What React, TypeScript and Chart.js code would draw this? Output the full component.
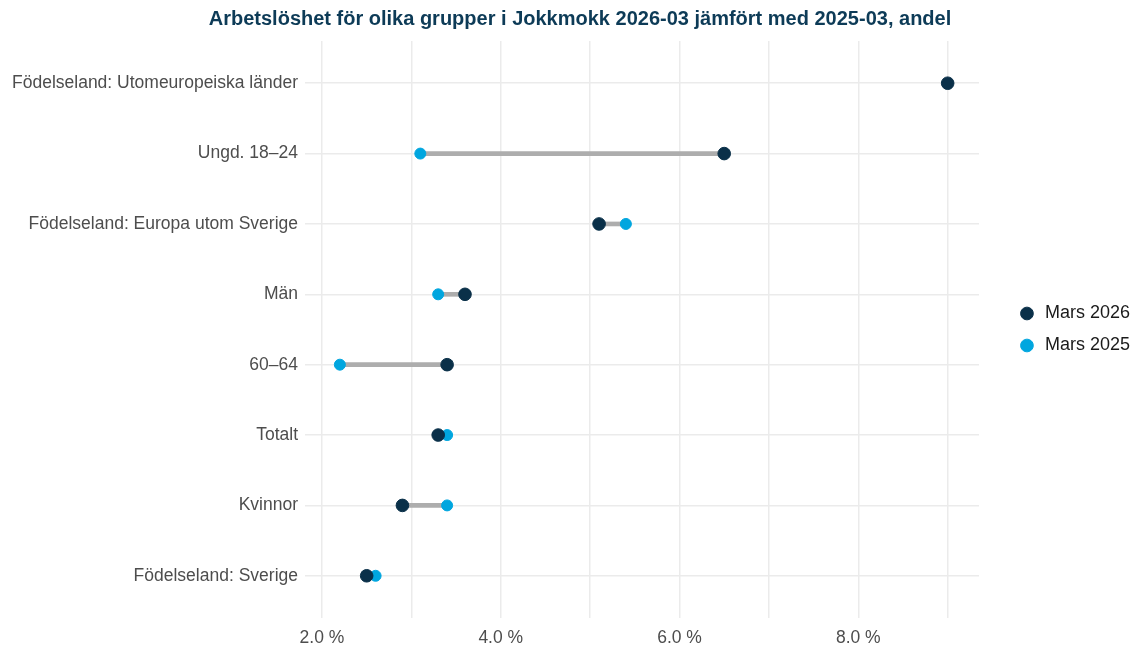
import React, { useEffect, useRef } from "react";
import { Chart, registerables, layouts } from "chart.js";

Chart.register(...registerables);

const categories = [
  "Födelseland: Utomeuropeiska länder",
  "Ungd. 18–24",
  "Födelseland: Europa utom Sverige",
  "Män",
  "60–64",
  "Totalt",
  "Kvinnor",
  "Födelseland: Sverige",
];
const mars2026 = [9.0, 6.5, 5.1, 3.6, 3.4, 3.3, 2.9, 2.5];
const mars2025: (number | null)[] = [null, 3.1, 5.4, 3.3, 2.2, 3.4, 3.4, 2.6];
const xTicks = [2, 3, 4, 5, 6, 7, 8, 9];
const seriesNames = ["Mars 2026", "Mars 2025"];
const title = "Arbetslöshet för olika grupper i Jokkmokk 2026-03 jämfört med 2025-03, andel";

const DARK = "#0a3049";
const LIGHT = "#00a6df";
const FONT = "'Liberation Sans', Arial, sans-serif";

// Empty layout box that keeps a gap between the plot and the legend,
// and a small shift of the title's centre to match the reference.
const legendGap = {
  id: "legendGap",
  beforeInit(chart: any) {
    const box: any = {
      position: "right",
      weight: 500,
      fullSize: false,
      options: {},
      width: 0,
      height: 0,
      left: 0,
      top: 0,
      right: 0,
      bottom: 0,
      isHorizontal: () => false,
      update(_w: number, h: number) {
        box.width = 25;
        box.height = h;
      },
      draw() {},
    };
    layouts.addBox(chart, box);
  },
  afterLayout(chart: any) {
    if (chart.titleBlock) chart.titleBlock.left += 20;
  },
};

export default function App() {
  const ref = useRef<HTMLCanvasElement>(null);
  useEffect(() => {
    document.body.style.margin = "0";
    const pts26 = mars2026.map((v, i) => ({ x: v, y: i }));
    const pts25 = mars2025
      .map((v, i) => (v == null ? null : { x: v, y: i }))
      .filter((p) => p !== null);
    const segs = categories
      .map((_, i) =>
        mars2025[i] == null ? null : { y: i, x: [Math.min(mars2026[i], mars2025[i] as number), Math.max(mars2026[i], mars2025[i] as number)] }
      )
      .filter((p) => p !== null);
    const chart = new Chart(ref.current!, {
      type: "bar",
      plugins: [legendGap],
      data: {
        datasets: [
          {
            type: "scatter",
            label: seriesNames[0],
            data: pts26,
            backgroundColor: DARK,
            borderColor: DARK,
            pointRadius: 6.3,
            pointHoverRadius: 6.3,
            pointStyle: "circle",
          } as any,
          {
            type: "scatter",
            label: seriesNames[1],
            data: pts25,
            backgroundColor: LIGHT,
            borderColor: LIGHT,
            pointRadius: 5.5,
            pointHoverRadius: 5.5,
            pointStyle: "circle",
          } as any,
          {
            type: "bar",
            label: "segment",
            data: segs as any,
            backgroundColor: "#adadad",
            borderWidth: 0,
            barThickness: 4,
            borderSkipped: false,
          } as any,
        ],
      },
      options: {
        animation: false,
        responsive: false,
        indexAxis: "y",
        layout: { padding: { left: 0, right: 0, top: 0, bottom: 0 } },
        plugins: {
          title: {
            display: true,
            text: title,
            color: "#0d3b57",
            font: { family: FONT, size: 20, weight: "bold", lineHeight: 1.2 },
            padding: { top: 7, bottom: 10 },
          },
          legend: {
            position: "right",
            fullSize: false,
            labels: {
              filter: (item) => item.datasetIndex !== 2,
              usePointStyle: true,
              boxWidth: 18,
              boxHeight: 9,
              padding: 14,
              color: "#1a1a1a",
              font: { family: FONT, size: 18 },
            },
          },
          tooltip: { enabled: false },
        },
        scales: {
          x: {
            type: "linear",
            min: 1.81,
            max: 9.35,
            offset: false,
            afterBuildTicks: (s: any) => {
              s.ticks = xTicks.map((v) => ({ value: v }));
            },
            afterFit: (s: any) => {
              s.height = 28;
            },
            ticks: {
              autoSkip: false,
              maxRotation: 0,
              color: "#4d4d4d",
              font: { family: FONT, size: 17.5 },
              padding: 10,
              callback: (v: any) => (Number(v) % 2 === 0 ? Number(v).toFixed(1) + " %" : ""),
            },
            grid: { color: "#ebebeb", lineWidth: 1.5, drawTicks: false, offset: false },
            border: { display: false },
          },
          y: {
            type: "linear",
            reverse: true,
            min: -0.6,
            max: 7.6,
            offset: false,
            afterBuildTicks: (s: any) => {
              s.ticks = categories.map((_, i) => ({ value: i }));
            },
            afterFit: (s: any) => {
              s.width = 305;
            },
            ticks: {
              autoSkip: false,
              color: "#4d4d4d",
              font: { family: FONT, size: 17.5 },
              padding: 7,
              callback: (v: any) => categories[Number(v)] ?? "",
            },
            grid: { color: "#ebebeb", lineWidth: 1.5, drawTicks: false, offset: false },
            border: { display: false },
          },
        },
      },
    });
    return () => chart.destroy();
  }, []);
  return (
    <div style={{ width: 1140, height: 646, background: "#fff" }}>
      <canvas ref={ref} width={1140} height={646} style={{ display: "block" }} />
    </div>
  );
}
